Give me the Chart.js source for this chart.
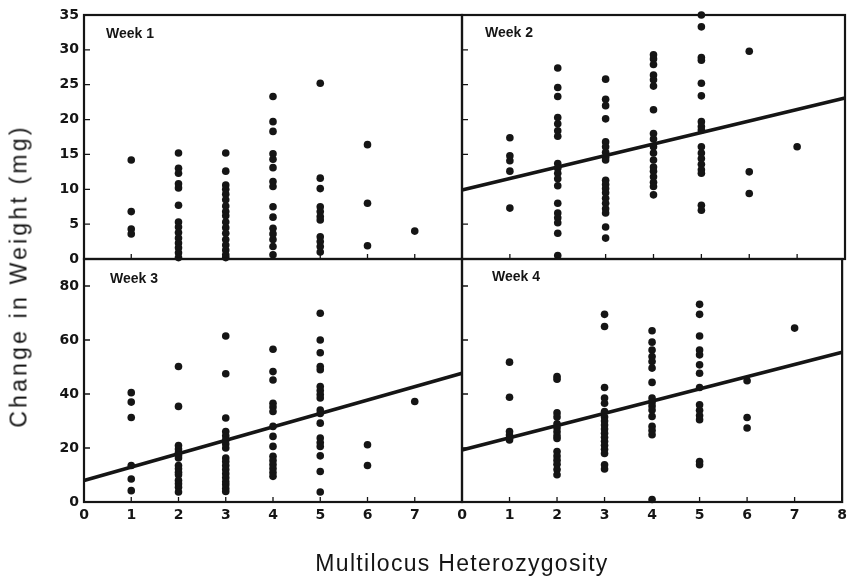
<!DOCTYPE html>
<html>
<head>
<meta charset="utf-8">
<script src="https://cdn.jsdelivr.net/npm/chart.js@4/dist/chart.umd.min.js"></script>
<style>
html,body{margin:0;padding:0;background:#fff;}
#wrap{position:relative;width:852px;height:577px;overflow:hidden;background:#fff;}
#wrap canvas{position:absolute;left:0;top:0;}
.t{position:absolute;font-family:"Liberation Sans",Arial,sans-serif;color:#151515;white-space:nowrap;line-height:1;}
.wk{font-size:14px;font-weight:bold;}
.ax{font-size:23px;}
</style>
</head>
<body>
<div id="wrap">
  <canvas id="w1" width="852" height="577"></canvas>
  <canvas id="w2" width="852" height="577"></canvas>
  <canvas id="w3" width="852" height="577"></canvas>
  <canvas id="w4" width="852" height="577"></canvas>
  <div class="t wk" style="left:106px;top:26px;">Week 1</div>
  <div class="t wk" style="left:485px;top:25px;">Week 2</div>
  <div class="t wk" style="left:110px;top:271px;">Week 3</div>
  <div class="t wk" style="left:492px;top:269px;">Week 4</div>
  <div class="t ax" id="ytitle" style="left:19px;top:276px;transform:translate(-50%,-50%) rotate(-90deg);letter-spacing:3.2px;">Change in Weight (mg)</div>
  <div class="t ax" id="xtitle" style="left:462px;top:563px;transform:translate(-50%,-50%);letter-spacing:1.3px;">Multilocus Heterozygosity</div>
</div>
<script>
// ---- data ----
const heterozygosityLevels = [1, 2, 3, 4, 5, 6, 7];

// Week 1: change in weight (mg) per heterozygosity level 1..7
const week1Values = [
  [14.2, 6.8, 4.3, 3.6],
  [15.2, 13.0, 12.3, 10.8, 10.2, 7.7, 5.3, 4.6, 3.8, 3.0, 2.3, 1.6, 0.9, 0.2],
  [15.2, 12.6, 10.6, 10.0, 9.3, 8.5, 7.6, 6.8, 6.2, 5.3, 4.5, 3.7, 2.8, 2.0, 1.3, 0.6, 0.2],
  [23.3, 19.7, 18.3, 15.1, 14.3, 13.1, 11.1, 10.4, 7.5, 6.0, 4.4, 3.6, 2.8, 1.8, 0.6],
  [25.2, 11.6, 10.1, 7.5, 6.8, 6.1, 5.6, 3.2, 2.5, 1.8, 1.0],
  [16.4, 8.0, 1.9, -0.6],
  [4.0]
];

// Week 2
const week2Values = [
  [17.4, 14.8, 14.1, 12.6, 7.3],
  [27.4, 24.6, 23.3, 20.3, 19.4, 18.4, 17.6, 13.7, 13.0, 12.3, 11.5, 10.5, 8.0, 6.6, 5.9, 5.2, 3.7, 0.5],
  [25.8, 22.9, 22.0, 20.1, 16.8, 16.1, 15.3, 14.6, 14.2, 11.3, 10.7, 10.1, 9.5, 8.7, 8.0, 7.2, 6.6, 4.6, 3.0],
  [29.3, 28.7, 27.9, 26.4, 25.7, 24.8, 21.4, 18.0, 17.2, 16.1, 15.2, 14.2, 13.2, 12.6, 11.8, 11.0, 10.4, 9.2],
  [35.0, 33.3, 28.9, 28.5, 25.2, 23.4, 19.7, 19.0, 18.5, 16.1, 15.2, 14.4, 13.6, 12.8, 12.3, 7.7, 7.0],
  [29.8, 12.5, 9.4],
  [16.1]
];

// Week 3
const week3Values = [
  [40.5, 37.0, 31.3, 13.5, 8.5, 4.2],
  [50.2, 35.4, 20.9, 19.6, 18.3, 17.2, 16.3, 13.5, 12.3, 11.0, 10.1, 8.0, 6.8, 5.5, 3.7],
  [61.5, 47.5, 31.1, 26.1, 24.5, 23.0, 21.5, 20.0, 16.3, 15.0, 13.5, 12.0, 10.5, 9.0, 7.5, 6.4, 5.0, 3.9],
  [56.6, 48.3, 45.2, 36.6, 35.2, 33.5, 28.0, 24.3, 20.6, 16.9, 15.4, 13.9, 12.4, 10.9, 9.5],
  [69.9, 60.0, 55.3, 50.2, 49.0, 42.8, 41.3, 39.8, 38.5, 34.1, 32.8, 29.2, 23.7, 22.0, 20.6, 17.1, 11.3, 3.7],
  [21.2, 13.5],
  [37.2]
];

// Week 4
const week4Values = [
  [51.8, 38.8, 26.1, 24.8, 23.6, 23.0],
  [46.5, 45.5, 33.0, 31.5, 29.0, 27.5, 26.0, 24.5, 23.5, 18.7, 17.0, 15.5, 14.0, 12.0, 10.1],
  [69.5, 65.0, 42.4, 38.5, 36.6, 33.5, 31.5, 30.0, 28.5, 27.0, 25.5, 24.0, 22.5, 21.0, 19.5, 18.0, 13.8, 12.2],
  [63.4, 59.2, 56.3, 53.9, 52.0, 49.6, 44.3, 38.5, 37.0, 35.6, 34.1, 31.7, 28.0, 26.5, 24.9, 0.9],
  [73.2, 69.5, 61.5, 56.3, 54.5, 50.8, 47.7, 42.4, 36.0, 34.0, 32.0, 30.5, 15.0, 13.8],
  [44.9, 31.3, 27.4],
  [64.4]
];

// Regression lines: endpoints at heterozygosity 0 and 8
const fitX = [0, 8];
const week2Fit = [9.9, 23.1];
const week3Fit = [8.0, 47.7];
const week4Fit = [19.3, 55.5];

// Tick labels
const xTicksLeft = [0, 1, 2, 3, 4, 5, 6, 7];
const xTicksRight = [0, 1, 2, 3, 4, 5, 6, 7, 8];
const xTickMarks = [0, 1, 2, 3, 4, 5, 6, 7, 8];
const yTicksTop = [0, 5, 10, 15, 20, 25, 30, 35];
const yTicksBottom = [0, 20, 40, 60, 80];

// ---- rendering ----
const INK = '#151515';
const tickFont = {family: '"DejaVu Sans", Arial, sans-serif', size: 14, weight: 'bold'};

function toPoints(values) {
  const pts = [];
  values.forEach((col, i) => col.forEach(v => pts.push({x: heterozygosityLevels[i], y: v})));
  return pts;
}

const framePlugin = {
  id: 'frame',
  afterDraw(chart) {
    const {ctx, chartArea: a, scales: {x, y}} = chart;
    const o = chart.options.plugins.frame;
    ctx.save();
    ctx.strokeStyle = INK;
    ctx.lineWidth = 1.3;
    ctx.beginPath();
    o.xMarks.forEach(v => { const px = x.getPixelForValue(v); ctx.moveTo(px, a.bottom); ctx.lineTo(px, a.bottom - 5); });
    o.yMarks.forEach(v => { const py = y.getPixelForValue(v); ctx.moveTo(a.left, py); ctx.lineTo(a.left + 6, py); });
    ctx.stroke();
    ctx.lineWidth = 2.2;
    ctx.strokeRect(a.left, a.top, a.right - a.left, a.bottom - a.top);
    ctx.restore();
  }
};

function panel(id, cfg) {
  const datasets = [{
    type: 'scatter',
    data: toPoints(cfg.values),
    pointRadius: 3.8,
    pointHoverRadius: 3.8,
    pointBackgroundColor: INK,
    pointBorderWidth: 0,
    clip: false
  }];
  if (cfg.fit) {
    datasets.push({
      type: 'line',
      data: fitX.map((x, i) => ({x: x, y: cfg.fit[i]})),
      borderColor: INK,
      borderWidth: 3.6,
      pointRadius: 0,
      fill: false,
      tension: 0,
      clip: false
    });
  }
  new Chart(document.getElementById(id), {
    data: {datasets},
    options: {
      responsive: false,
      animation: false,
      events: [],
      layout: {padding: {left: 0, right: 852 - cfg.right, top: cfg.top, bottom: 0}},
      plugins: {
        legend: {display: false},
        tooltip: {enabled: false},
        frame: {xMarks: xTickMarks, yMarks: cfg.yTicks}
      },
      scales: {
        x: {
          type: 'linear', min: 0, max: 8,
          afterBuildTicks: s => { s.ticks = cfg.xTicks.map(v => ({value: v})); },
          afterFit: s => { s.height = 577 - cfg.bottom; },
          ticks: {display: cfg.showX, font: tickFont, color: INK, padding: 5, autoSkip: false, maxRotation: 0},
          grid: {display: false, drawTicks: false},
          border: {display: false}
        },
        y: {
          type: 'linear', min: cfg.yMin, max: cfg.yMax,
          afterBuildTicks: s => { s.ticks = cfg.yTicks.map(v => ({value: v})); },
          afterFit: s => { s.width = cfg.left; },
          ticks: {display: cfg.showY, font: tickFont, color: INK, padding: 5, autoSkip: false},
          grid: {display: false, drawTicks: false},
          border: {display: false}
        }
      }
    },
    plugins: [framePlugin]
  });
}

panel('w1', {values: week1Values, left: 84, right: 462, top: 15, bottom: 259, yMin: 0, yMax: 35,
  yTicks: yTicksTop, xTicks: xTicksLeft, showX: false, showY: true});
panel('w2', {values: week2Values, fit: week2Fit, left: 462, right: 845, top: 15, bottom: 259, yMin: 0, yMax: 35,
  yTicks: yTicksTop, xTicks: xTicksRight, showX: false, showY: false});
panel('w3', {values: week3Values, fit: week3Fit, left: 84, right: 462, top: 259, bottom: 502, yMin: 0, yMax: 90,
  yTicks: yTicksBottom, xTicks: xTicksLeft, showX: true, showY: true});
panel('w4', {values: week4Values, fit: week4Fit, left: 462, right: 845, top: 259, bottom: 502, yMin: 0, yMax: 90,
  yTicks: yTicksBottom, xTicks: xTicksRight, showX: true, showY: false});
</script>
</body>
</html>
